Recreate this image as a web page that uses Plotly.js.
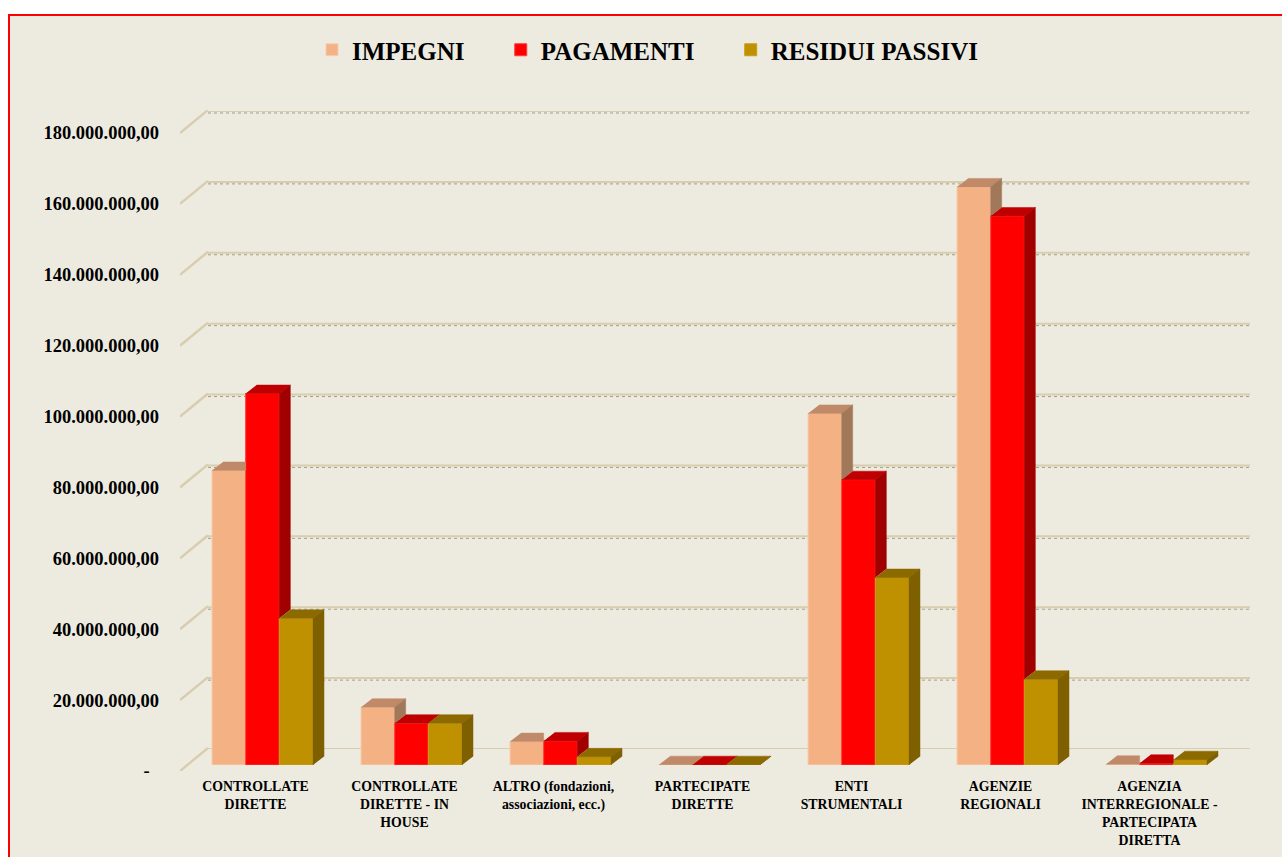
<!DOCTYPE html>
<html>
<head>
<meta charset="utf-8">
<script src="https://cdn.plot.ly/plotly-3.0.1.min.js"></script>
<style>
html,body{margin:0;padding:0;background:#ffffff;}
#chart{width:1282px;height:857px;}
</style>
</head>
<body>
<div id="chart"></div>
<script>
// ---------------- DATA ----------------
const categories = [
  'CONTROLLATE<br>DIRETTE',
  'CONTROLLATE<br>DIRETTE - IN<br>HOUSE',
  'ALTRO (fondazioni,<br>associazioni, ecc.)',
  'PARTECIPATE<br>DIRETTE',
  'ENTI<br>STRUMENTALI',
  'AGENZIE<br>REGIONALI',
  'AGENZIA<br>INTERREGIONALE -<br>PARTECIPATA<br>DIRETTA'
];
const seriesNames = ['IMPEGNI', 'PAGAMENTI', 'RESIDUI PASSIVI'];
const impegni        = [83.1e6, 16.3e6, 6.6e6, 0.1e6, 99.2e6, 163.1e6, 0.2e6];
const pagamenti      = [104.8e6, 11.8e6, 6.8e6, 0.1e6, 80.5e6, 154.9e6, 0.5e6];
const residuiPassivi = [41.4e6, 11.8e6, 2.3e6, 0.1e6, 52.9e6, 24.2e6, 1.5e6];
const yTickValues = [0, 20e6, 40e6, 60e6, 80e6, 100e6, 120e6, 140e6, 160e6, 180e6];
const yTickLabels = ['-\u00a0\u00a0', '20.000.000,00', '40.000.000,00', '60.000.000,00', '80.000.000,00',
  '100.000.000,00', '120.000.000,00', '140.000.000,00', '160.000.000,00', '180.000.000,00'];

// ---------------- STYLE ----------------
const frontColors = ['#F4B183', '#FF0000', '#BF9000'];
const edgeColors  = ['#F9CDB0', '#FF3B3B', '#C99E1A'];
const topColors   = ['#C08A68', '#C00000', '#8C6A00'];
const sideColors  = ['#A2785A', '#A00000', '#7F6000'];
const gridLight = '#D8CDAE';
const gridDark  = '#A39D88';

// ---------------- GEOMETRY (pixels of the 1282x857 page) ----------------
const W = 1282, H = 857;
const fx = px => px / W;
const fy = px => (H - px) / H;
const YMAX = 180e6;
const KPX = 638 / YMAX;              // pixels per value unit
const wall  = {l: 208, r: 1250, b: 749};
const front = {l: 188, r: 1231, b: 765};
const lab   = {b: 771};
const diagL = 180, diagDY = 23;
const DEPTH_X = 11, DEPTH_Y = 8.5;
const BAR_GAP = 0.322;

const nCat = categories.length;
const xUnitPx = (front.r - front.l) / nCat;
const dxU = DEPTH_X / xUnitPx;
const dyV = DEPTH_Y / KPX;
const bw = (1 - BAR_GAP) / 3;
const catIdx = categories.map((c, i) => i);

const seriesVals = [impegni, pagamenti, residuiPassivi];

const traces = [];
// back wall gridlines (one per y tick)
const gX = [], gY = [], gY2 = [];
yTickValues.forEach(v => {
  gX.push(0, 1, null);
  gY.push(v, v, null);
  gY2.push(v - 2 / KPX, v - 2 / KPX, null);
});
traces.push({type: 'scatter', mode: 'lines', x: gX, y: gY2, xaxis: 'x', yaxis: 'y',
  line: {color: gridDark, width: 1, dash: 'dot'}, showlegend: false, hoverinfo: 'skip'});
traces.push({type: 'scatter', mode: 'lines', x: gX, y: gY, xaxis: 'x', yaxis: 'y',
  line: {color: gridLight, width: 2}, showlegend: false, hoverinfo: 'skip'});

// front faces: real bars
seriesVals.forEach((vals, i) => {
  traces.push({
    type: 'bar', name: seriesNames[i] + '\u00a0\u00a0\u00a0\u00a0\u00a0',
    x: catIdx, y: vals, xaxis: 'x2', yaxis: 'y2',
    marker: {color: frontColors[i], line: {color: edgeColors[i], width: 1}},
    hoverinfo: 'skip'
  });
});
// 3D top & side faces (derived from the data values)
seriesVals.forEach((vals, i) => {
  const next = seriesVals[i + 1];
  const tX = [], tY = [], sX = [], sY = [];
  vals.forEach((v, k) => {
    const x0 = k - 1.5 * bw + i * bw, x1 = x0 + bw;
    const vn = next ? next[k] : 0;
    if (next && vn > v) {
      tX.push(x0, x1, x1, x0 + dxU, null);
      tY.push(v, v, v + dyV, v + dyV, null);
    } else {
      tX.push(x0, x1, x1 + dxU, x0 + dxU, null);
      tY.push(v, v, v + dyV, v + dyV, null);
    }
    if (vn < v) {
      const lo = Math.max(vn, 0);
      sX.push(x1, x1, x1 + dxU, x1 + dxU, null);
      sY.push(lo, v, v + dyV, lo + dyV, null);
    }
  });
  traces.push({
    type: 'scatter', mode: 'lines', x: tX, y: tY, xaxis: 'x2', yaxis: 'y2',
    fill: 'toself', fillcolor: topColors[i], line: {color: topColors[i], width: 0.5},
    showlegend: false, hoverinfo: 'skip'
  });
  traces.push({
    type: 'scatter', mode: 'lines', x: sX, y: sY, xaxis: 'x2', yaxis: 'y2',
    fill: 'toself', fillcolor: sideColors[i], line: {color: sideColors[i], width: 0.5},
    showlegend: false, hoverinfo: 'skip'
  });
});
// left wall diagonals (from front tick to back wall gridline)
const dX = [], dY = [];
yTickValues.forEach(v => { dX.push(0, 1, null); dY.push(v, v + diagDY / KPX, null); });
traces.push({
  type: 'scatter', mode: 'lines', x: dX, y: dY, xaxis: 'x4', yaxis: 'y3',
  line: {color: gridLight, width: 2.5}, showlegend: false, hoverinfo: 'skip'
});

const serif = 'Liberation Serif, Times New Roman, serif';
const layout = {
  width: W, height: H,
  margin: {l: 0, r: 0, t: 0, b: 0, pad: 0},
  paper_bgcolor: '#FFFFFF',
  plot_bgcolor: 'rgba(0,0,0,0)',
  separators: ',.',
  hovermode: false,
  showlegend: true,
  barmode: 'group', bargap: BAR_GAP, bargroupgap: 0,
  legend: {
    orientation: 'h', x: fx(312), xanchor: 'left', y: fy(50), yanchor: 'middle',
    font: {family: serif, size: 25, color: '#000', weight: 700},
    bgcolor: 'rgba(0,0,0,0)', traceorder: 'normal'
  },
  xaxis: {domain: [fx(wall.l), fx(wall.r)], range: [0, 1], visible: false, fixedrange: true},
  yaxis: {domain: [fy(wall.b), fy(wall.b - YMAX * KPX)], range: [0, YMAX], visible: false},
  xaxis2: {
    domain: [fx(front.l), fx(front.r)], range: [-0.5, nCat - 0.5], anchor: 'y2',
    tickvals: catIdx, ticktext: categories, ticks: '', showgrid: false, zeroline: false, showline: false,
    ticklabelstandoff: 11, ticklabelshift: -7,
    tickfont: {family: serif, size: 13.8, color: '#000', weight: 700}
  },
  yaxis2: {domain: [fy(front.b), fy(front.b - YMAX * KPX)], range: [0, YMAX], anchor: 'x2', visible: false},
  yaxis3: {
    domain: [fy(lab.b), fy(lab.b - YMAX * KPX - diagDY)], range: [0, YMAX + diagDY / KPX], anchor: 'x4',
    tickvals: yTickValues, ticktext: yTickLabels, ticks: '', showgrid: false, zeroline: false, showline: false,
    ticklabelstandoff: 20,
    tickfont: {family: serif, size: 18.5, color: '#000', weight: 700}
  },
  xaxis4: {domain: [fx(diagL), fx(wall.l)], range: [0, 1], anchor: 'y3', visible: false},
  shapes: [{
    type: 'rect', xref: 'paper', yref: 'paper', layer: 'below',
    x0: fx(9), x1: fx(1300), y0: fy(900), y1: fy(15),
    fillcolor: '#EDEBE0', line: {color: '#FF0000', width: 2}
  }]
};

Plotly.newPlot('chart', traces, layout, {staticPlot: true, displayModeBar: false});
</script>
</body>
</html>
